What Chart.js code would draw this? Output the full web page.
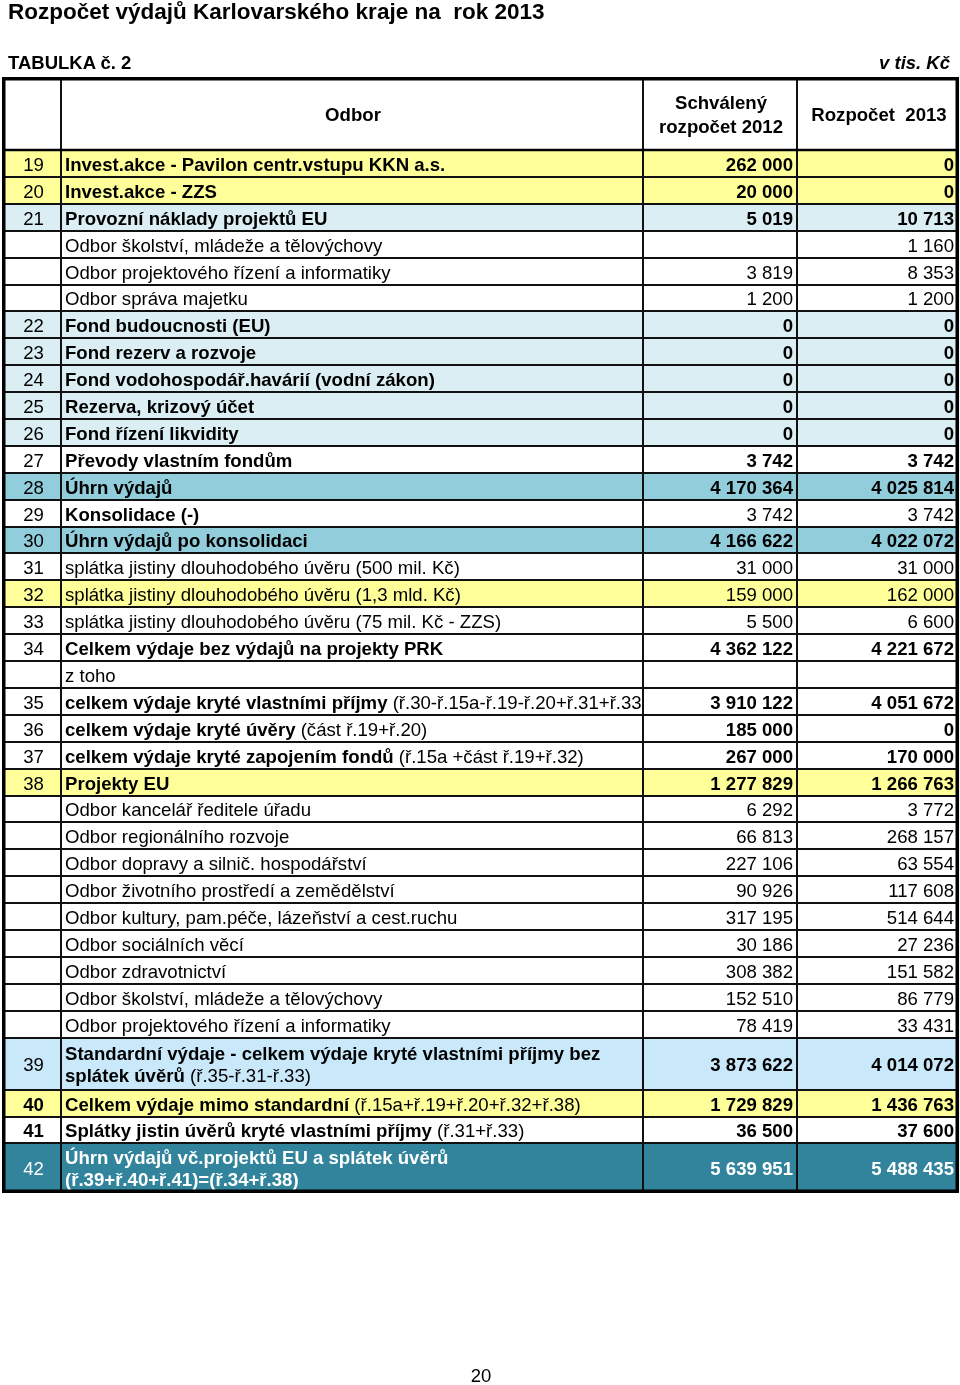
<!DOCTYPE html>
<html>
<head>
<meta charset="utf-8">
<script src="https://cdn.jsdelivr.net/npm/chart.js@4.4.1/dist/chart.umd.min.js"></script>
<style>
html,body{margin:0;padding:0;background:#fff;}
#wrap{position:relative;width:960px;height:1385px;overflow:hidden;background:#fff;}
#c{position:absolute;left:0;top:0;}
.t{position:absolute;font-family:"Liberation Sans",Arial,sans-serif;color:#000;white-space:pre;line-height:1;}
</style>
</head>
<body>
<div id="wrap">
<canvas id="c" width="960" height="1385"></canvas>
<div class="t" style="left:8px;top:1px;font-size:22.5px;font-weight:bold;">Rozpočet výdajů Karlovarského kraje na  rok 2013</div>
<div class="t" style="left:8px;top:54px;font-size:18.5px;font-weight:bold;">TABULKA č. 2</div>
<div class="t" style="right:10px;top:54px;font-size:18.5px;font-weight:bold;font-style:italic;">v tis. Kč</div>
<div class="t" style="left:1px;width:960px;text-align:center;top:1367px;font-size:18.5px;">20</div>
</div>
<script>
// ---------- DATA ----------
const headerLabels = ['', 'Odbor', 'Schválený\nrozpočet 2012', 'Rozpočet  2013'];

const rowNumbers = ['19','20','21','','','','22','23','24','25','26','27','28','29','30','31','32','33','34','',
  '35','36','37','38','','','','','','','','','','39','40','41','42'];

const rowLabels = [
  'Invest.akce - Pavilon centr.vstupu KKN a.s.',
  'Invest.akce - ZZS',
  'Provozní náklady projektů EU',
  'Odbor školství, mládeže a tělovýchovy',
  'Odbor projektového řízení a informatiky',
  'Odbor správa majetku',
  'Fond budoucnosti (EU)',
  'Fond rezerv a rozvoje',
  'Fond vodohospodář.havárií (vodní zákon)',
  'Rezerva, krizový účet',
  'Fond řízení likvidity',
  'Převody vlastním fondům',
  'Úhrn výdajů',
  'Konsolidace (-)',
  'Úhrn výdajů po konsolidaci',
  'splátka jistiny dlouhodobého úvěru (500 mil. Kč)',
  'splátka jistiny dlouhodobého úvěru (1,3 mld. Kč)',
  'splátka jistiny dlouhodobého úvěru (75 mil. Kč - ZZS)',
  'Celkem výdaje bez výdajů na projekty PRK',
  'z toho',
  'celkem výdaje kryté vlastními příjmy',
  'celkem výdaje kryté úvěry',
  'celkem výdaje kryté zapojením fondů',
  'Projekty EU',
  'Odbor kancelář ředitele úřadu',
  'Odbor regionálního rozvoje',
  'Odbor dopravy a silnič. hospodářství',
  'Odbor životního prostředí a zemědělství',
  'Odbor kultury, pam.péče, lázeňství a cest.ruchu',
  'Odbor sociálních věcí',
  'Odbor zdravotnictví',
  'Odbor školství, mládeže a tělovýchovy',
  'Odbor projektového řízení a informatiky',
  'Standardní výdaje - celkem výdaje kryté vlastními příjmy bez\nsplátek úvěrů',
  'Celkem výdaje mimo standardní',
  'Splátky jistin úvěrů kryté vlastními příjmy',
  'Úhrn výdajů vč.projektů EU a splátek úvěrů\n(ř.39+ř.40+ř.41)=(ř.34+ř.38)'
];

const rowNotes = ['','','','','','','','','','','','','','','','','','','','',
  '(ř.30-ř.15a-ř.19-ř.20+ř.31+ř.33', '(část ř.19+ř.20)', '(ř.15a +část ř.19+ř.32)',
  '','','','','','','','','','', '(ř.35-ř.31-ř.33)', '(ř.15a+ř.19+ř.20+ř.32+ř.38)', '(ř.31+ř.33)', ''];

const budget2012 = [262000, 20000, 5019, null, 3819, 1200, 0, 0, 0, 0, 0, 3742, 4170364, 3742, 4166622,
  31000, 159000, 5500, 4362122, null, 3910122, 185000, 267000, 1277829, 6292, 66813, 227106, 90926,
  317195, 30186, 308382, 152510, 78419, 3873622, 1729829, 36500, 5639951];

const budget2013 = [0, 0, 10713, 1160, 8353, 1200, 0, 0, 0, 0, 0, 3742, 4025814, 3742, 4022072,
  31000, 162000, 6600, 4221672, null, 4051672, 0, 170000, 1266763, 3772, 268157, 63554, 117608,
  514644, 27236, 151582, 86779, 33431, 4014072, 1436763, 37600, 5488435];

// ---------- STYLE / LAYOUT ----------
const rowKind = ['Y','Y','L','s','s','s','L','L','L','L','L','W','M','K','M','s','y','s','W','s',
  'W','W','W','Y','s','s','s','s','s','s','s','s','s','S','G','H','D'];

const KINDS = {
  Y: {fill:'#FFFF99', lb:true,  vb:true,  nb:false, color:'#000'},
  y: {fill:'#FFFF99', lb:false, vb:false, nb:false, color:'#000'},
  L: {fill:'#DAEEF3', lb:true,  vb:true,  nb:false, color:'#000'},
  s: {fill:'#FFFFFF', lb:false, vb:false, nb:false, color:'#000'},
  W: {fill:'#FFFFFF', lb:true,  vb:true,  nb:false, color:'#000'},
  K: {fill:'#FFFFFF', lb:true,  vb:false, nb:false, color:'#000'},
  M: {fill:'#92CDDC', lb:true,  vb:true,  nb:false, color:'#000'},
  S: {fill:'#C9E8FA', lb:true,  vb:true,  nb:false, color:'#000'},
  G: {fill:'#FFFF99', lb:true,  vb:true,  nb:true,  color:'#000'},
  H: {fill:'#FFFFFF', lb:true,  vb:true,  nb:true,  color:'#000'},
  D: {fill:'#31849B', lb:true,  vb:true,  nb:false, color:'#FFFFFF'}
};

const COL_EDGES = [0, 59, 641, 795, 957];
const HEADER_H = 73;
const ROW_H = 26.9;
const rowHeights = rowLabels.map((_, i) => i === 33 ? 52 : (i === 36 ? 49.5 : ROW_H));
const edges = [0, HEADER_H];
let acc = HEADER_H;
rowHeights.forEach(h => { acc += h; edges.push(Math.round(acc)); });
const TOTAL_H = 1116;

const FONT = '"Liberation Sans", Arial, sans-serif';
const FS = 18.6;

function fmt(v) {
  if (v === null || v === undefined) return '';
  return String(v).replace(/\B(?=(\d{3})+(?!\d))/g, ' ');
}

const nRows = rowLabels.length + 1; // + header
function fillFor(i) { return i === 0 ? '#FFFFFF' : KINDS[rowKind[i - 1]].fill; }

const datasets = [0, 1, 2, 3].map(j => ({
  data: Array.from({length: nRows}, (_, i) => ({
    x: (COL_EDGES[j] + COL_EDGES[j + 1]) / 2,
    y: [edges[i], Math.min(edges[i + 1], TOTAL_H)]
  })),
  barThickness: COL_EDGES[j + 1] - COL_EDGES[j],
  grouped: false,
  backgroundColor: ctx => fillFor(ctx.dataIndex),
  borderColor: '#111111',
  borderWidth: 1,
  borderSkipped: false,
  inflateAmount: 0
}));

const tablePlugin = {
  id: 'tableText',
  afterDatasetsDraw(chart) {
    const ctx = chart.ctx, xs = chart.scales.x, ys = chart.scales.y, ca = chart.chartArea;
    const px = COL_EDGES.map(v => xs.getPixelForValue(v));
    ctx.save();
    // header
    const hTop = ys.getPixelForValue(edges[0]), hBot = ys.getPixelForValue(edges[1]);
    const hc = (hTop + hBot) / 2;
    ctx.fillStyle = '#000';
    ctx.font = 'bold ' + FS + 'px ' + FONT;
    ctx.textAlign = 'center';
    ctx.textBaseline = 'alphabetic';
    headerLabels.forEach((lab, j) => {
      if (!lab) return;
      const lines = lab.split('\n');
      const cx = (px[j] + px[j + 1]) / 2 + 1;
      const lh = 24;
      const start = hc - (lines.length - 1) * lh / 2 + 7;
      lines.forEach((ln, k) => ctx.fillText(ln, cx, start + k * lh));
    });
    // rows
    for (let i = 0; i < rowLabels.length; i++) {
      const k = KINDS[rowKind[i]];
      const top = ys.getPixelForValue(edges[i + 1]), bot = ys.getPixelForValue(Math.min(edges[i + 2], TOTAL_H));
      const cy = (top + bot) / 2;
      const base = cy + 7;
      ctx.fillStyle = k.color;
      // row number
      ctx.textAlign = 'center';
      ctx.font = (k.nb ? 'bold ' : '') + FS + 'px ' + FONT;
      ctx.fillText(rowNumbers[i], (px[0] + px[1]) / 2 + 2, base);
      // values
      ctx.textAlign = 'right';
      ctx.font = (k.vb ? 'bold ' : '') + FS + 'px ' + FONT;
      ctx.fillText(fmt(budget2012[i]), px[3] - 4, base);
      ctx.fillText(fmt(budget2013[i]), px[4] - 5, base);
      // label (clipped to its column)
      ctx.save();
      ctx.beginPath();
      ctx.rect(px[1], top, px[2] - px[1] - 2, bot - top);
      ctx.clip();
      ctx.textAlign = 'left';
      const lines = rowLabels[i].split('\n');
      const lh = 22.5;
      const start = base - (lines.length - 1) * lh / 2;
      const mainFont = (k.lb ? 'bold ' : '') + FS + 'px ' + FONT;
      const noteFont = FS + 'px ' + FONT;
      lines.forEach((ln, li) => {
        const y = start + li * lh;
        const x0 = px[1] + 4;
        ctx.font = mainFont;
        ctx.fillText(ln, x0, y);
        if (li === lines.length - 1 && rowNotes[i]) {
          const w = ctx.measureText(ln + ' ').width;
          ctx.font = noteFont;
          ctx.fillText(rowNotes[i], x0 + w, y);
        }
      });
      ctx.restore();
    }
    // thick outer border and header separator
    ctx.strokeStyle = '#000';
    ctx.lineWidth = 3.5;
    ctx.strokeRect(ca.left + 1.75, ca.top + 1.75, ca.right - ca.left - 3.5, ca.bottom - ca.top - 3.5);
    ctx.lineWidth = 2.5;
    ctx.beginPath();
    ctx.moveTo(ca.left, hBot);
    ctx.lineTo(ca.right, hBot);
    ctx.stroke();
    ctx.restore();
  }
};

new Chart(document.getElementById('c'), {
  type: 'bar',
  data: { datasets },
  options: {
    responsive: false,
    devicePixelRatio: 1,
    animation: false,
    events: [],
    layout: { padding: { left: 2, right: 1, top: 77, bottom: 1385 - 77 - 1116 } },
    plugins: { legend: { display: false }, tooltip: { enabled: false }, title: { display: false } },
    scales: {
      x: { type: 'linear', offset: false, min: COL_EDGES[0], max: COL_EDGES[COL_EDGES.length - 1], display: false },
      y: { type: 'linear', offset: false, min: 0, max: TOTAL_H, reverse: true, display: false }
    }
  },
  plugins: [tablePlugin]
});
</script>
</body>
</html>
